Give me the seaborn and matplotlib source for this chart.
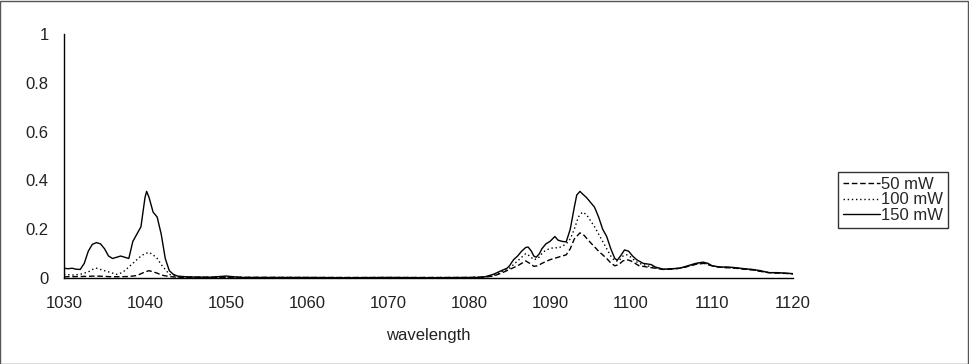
import pandas as pd
import numpy as np
import matplotlib
matplotlib.use("Agg")
import matplotlib.pyplot as plt
from matplotlib.patches import Rectangle
import seaborn as sns

# --------------------------
# Datos
# --------------------------
wl_150 = [1030, 1030.5, 1031, 1031.5, 1032, 1032.5, 1033, 1033.5, 1034, 1034.5, 1035, 1035.5,
          1036, 1036.5, 1037, 1037.5, 1038, 1038.5, 1039, 1039.5, 1040, 1040.2, 1040.5, 1041,
          1041.5, 1042, 1042.5, 1043, 1043.5, 1044, 1045, 1046, 1048, 1050, 1052, 1055, 1060,
          1065, 1070, 1075, 1080, 1081, 1082, 1083, 1084, 1084.7, 1085, 1085.5, 1086, 1086.5,
          1087, 1087.3, 1087.7, 1088, 1088.3, 1088.7, 1089, 1089.5, 1090, 1090.6, 1091, 1091.5,
          1092, 1092.5, 1093, 1093.3, 1093.7, 1094, 1094.5, 1095, 1095.5, 1096, 1096.5, 1097,
          1097.5, 1098, 1098.3, 1098.7, 1099.2, 1099.7, 1100.2, 1100.7, 1101.5, 1102.5, 1103,
          1104, 1105, 1106, 1107, 1108, 1108.9, 1109.5, 1110, 1111, 1112, 1113, 1114, 1115,
          1116, 1117, 1118, 1119, 1120]
int_150 = [0.04, 0.038, 0.04, 0.036, 0.035, 0.06, 0.11, 0.138, 0.145, 0.14, 0.12, 0.09,
           0.08, 0.085, 0.09, 0.085, 0.08, 0.15, 0.18, 0.21, 0.33, 0.355, 0.33, 0.27,
           0.25, 0.18, 0.08, 0.03, 0.015, 0.008, 0.005, 0.004, 0.003, 0.008, 0.002, 0.002, 0.002,
           0.001, 0.002, 0.001, 0.002, 0.002, 0.005, 0.015, 0.03, 0.04, 0.05, 0.075, 0.09, 0.11,
           0.125, 0.127, 0.11, 0.09, 0.085, 0.1, 0.12, 0.14, 0.15, 0.17, 0.155, 0.15,
           0.148, 0.2, 0.29, 0.34, 0.355, 0.345, 0.33, 0.31, 0.29, 0.25, 0.2, 0.17,
           0.12, 0.08, 0.073, 0.09, 0.115, 0.11, 0.09, 0.075, 0.06, 0.055, 0.045,
           0.036, 0.038, 0.04, 0.05, 0.06, 0.065, 0.06, 0.05, 0.045, 0.045, 0.042, 0.038, 0.035,
           0.03, 0.022, 0.022, 0.02, 0.018]

wl_100 = [1030, 1031, 1032, 1033, 1033.5, 1034, 1034.5, 1035, 1035.5, 1036, 1036.5, 1037,
          1037.5, 1038, 1038.5, 1039, 1039.5, 1040, 1040.5, 1041, 1041.5, 1042, 1042.5, 1043,
          1044, 1046, 1050, 1055, 1060, 1070, 1080, 1082, 1083, 1084, 1085, 1086, 1087, 1087.5,
          1088, 1088.5, 1089, 1089.5, 1090, 1090.5, 1091, 1091.5, 1092, 1092.5, 1093, 1093.5,
          1094, 1094.5, 1095, 1095.5, 1096, 1096.5, 1097, 1097.5, 1098, 1098.5, 1099, 1099.5,
          1100, 1100.5, 1101, 1102, 1103, 1104, 1105, 1106, 1107, 1108, 1109, 1110, 1111, 1112,
          1113, 1114, 1115, 1116, 1117, 1118, 1119, 1120]
int_100 = [0.015, 0.012, 0.015, 0.025, 0.035, 0.04, 0.035, 0.03, 0.025, 0.02, 0.015, 0.02,
           0.03, 0.045, 0.06, 0.075, 0.09, 0.1, 0.105, 0.095, 0.08, 0.055, 0.035, 0.015,
           0.005, 0.003, 0.003, 0.002, 0.002, 0.002, 0.002, 0.005, 0.01, 0.025, 0.04, 0.07, 0.1, 0.09,
           0.075, 0.08, 0.1, 0.115, 0.12, 0.125, 0.123, 0.13, 0.14, 0.16, 0.2, 0.25,
           0.27, 0.26, 0.235, 0.21, 0.18, 0.15, 0.12, 0.09, 0.07, 0.07, 0.09, 0.095,
           0.085, 0.07, 0.06, 0.05, 0.042, 0.036, 0.037, 0.04, 0.048, 0.058, 0.062, 0.05, 0.044, 0.043,
           0.04, 0.037, 0.034, 0.028, 0.022, 0.021, 0.019, 0.017]

wl_50 = [1030, 1032, 1034, 1036, 1038, 1039, 1040, 1040.5, 1041, 1041.5, 1042, 1043, 1044,
         1050, 1060, 1070, 1080, 1082, 1083, 1084, 1085, 1086, 1087, 1087.5, 1088, 1088.5, 1089,
         1090, 1091, 1092, 1092.5, 1093, 1093.7, 1094.2, 1095, 1096, 1097, 1097.5, 1098, 1098.5,
         1099, 1099.5, 1100, 1101, 1102, 1103, 1104, 1105, 1106, 1107, 1108, 1109, 1110, 1111,
         1112, 1113, 1114, 1115, 1116, 1117, 1118, 1119, 1120]
int_50 = [0.005, 0.006, 0.008, 0.005, 0.006, 0.01, 0.025, 0.03, 0.025, 0.02, 0.012, 0.006, 0.003,
          0.003, 0.002, 0.002, 0.002, 0.004, 0.008, 0.02, 0.035, 0.05, 0.07, 0.06, 0.048, 0.05, 0.06,
          0.075, 0.085, 0.095, 0.12, 0.16, 0.185, 0.175, 0.145, 0.11, 0.08, 0.062, 0.05, 0.055,
          0.07, 0.075, 0.07, 0.05, 0.045, 0.04, 0.035, 0.036, 0.04, 0.047, 0.056, 0.06, 0.05, 0.044,
          0.042, 0.04, 0.036, 0.033, 0.027, 0.022, 0.02, 0.019, 0.017]

potencias = ["50 mW", "100 mW", "150 mW"]

espectros = pd.concat([
    pd.DataFrame({"wavelength": wl_50, "intensidad": int_50, "potencia": "50 mW"}),
    pd.DataFrame({"wavelength": wl_100, "intensidad": int_100, "potencia": "100 mW"}),
    pd.DataFrame({"wavelength": wl_150, "intensidad": int_150, "potencia": "150 mW"}),
], ignore_index=True)

# --------------------------
# Gráfico
# --------------------------
sns.set_style("white")
plt.rcParams["font.family"] = ["Liberation Sans", "DejaVu Sans"]

fig = plt.figure(figsize=(9.69, 3.64), dpi=100)
ax = fig.add_axes([64 / 969, 86 / 364, 729 / 969, 244 / 364])

sns.lineplot(data=espectros, x="wavelength", y="intensidad", style="potencia",
             style_order=potencias, color="black", linewidth=1,
             dashes={"50 mW": (4, 2), "100 mW": (1, 2), "150 mW": ""},
             sort=False, legend=False, ax=ax)

ax.set_xlim(1030, 1120)
ax.set_ylim(0, 1)
ax.set_xticks([1030, 1040, 1050, 1060, 1070, 1080, 1090, 1100, 1110, 1120])
ax.set_yticks([0, 0.2, 0.4, 0.6, 0.8, 1])
ax.set_yticklabels(["0", "0.2", "0.4", "0.6", "0.8", "1"])
ax.tick_params(axis="x", length=0, pad=13, labelsize=12, colors="#222222")
ax.tick_params(axis="y", length=0, pad=11, labelsize=12, colors="#222222")
ax.set_xlabel("wavelength", fontsize=12, labelpad=12, color="#222222")
ax.set_ylabel("")
for lado in ["top", "right"]:
    ax.spines[lado].set_visible(False)
for lado in ["left", "bottom"]:
    ax.spines[lado].set_color("black")
    ax.spines[lado].set_linewidth(1)

# Leyenda (se corta en el borde derecho, como en el original)
manejadores = [plt.Line2D([], [], color="black", lw=1, dashes=d)
               for d in [(4, 2), (1, 2), ()]]
manejadores[2].set_linestyle("-")
ley = fig.legend(manejadores, potencias, loc="upper left",
                 bbox_to_anchor=(838 / 969, 1 - 172 / 364), frameon=True, fancybox=False,
                 fontsize=12, handlelength=2.2, handletextpad=0.1, labelspacing=0.02,
                 borderpad=0.3, borderaxespad=0)
ley.get_frame().set_edgecolor("black")
ley.get_frame().set_linewidth(1)

# Borde de la figura
fig.patches.append(Rectangle((0.0005, 0.001), 0.998, 0.997, transform=fig.transFigure,
                             fill=False, edgecolor="#555555", linewidth=1))

plt.savefig("out.png", dpi=100)
